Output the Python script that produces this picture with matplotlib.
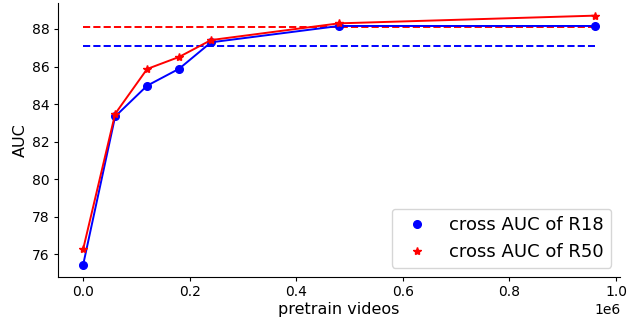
import numpy as np
import matplotlib
matplotlib.use("Agg")
import matplotlib.pyplot as plt

# pretrain videos and AUC values
videos = [0, 60000, 120000, 180000, 240000, 480000, 960000]
auc_r18 = [75.45, 83.34, 84.98, 85.88, 87.29, 88.16, 88.16]
auc_r50 = [76.28, 83.48, 85.87, 86.51, 87.41, 88.30, 88.71]
base_r18 = 87.11
base_r50 = 88.12

fig = plt.figure(figsize=(6.35, 3.2), dpi=100)
ax = fig.add_axes([0.0907, 0.134, 0.886, 0.856])

# baselines
ax.plot([videos[0], videos[-1]], [base_r18, base_r18], "--", color="blue", linewidth=1.4)
ax.plot([videos[0], videos[-1]], [base_r50, base_r50], "--", color="red", linewidth=1.4)

# curves
ax.plot(videos, auc_r18, "-", color="blue", linewidth=1.4)
ax.plot(videos, auc_r18, "o", color="blue", markersize=5.5, label="cross AUC of R18")
ax.plot(videos, auc_r50, "-", color="red", linewidth=1.4)
ax.plot(videos, auc_r50, "*", color="red", markersize=6, label="cross AUC of R50")

ax.spines["top"].set_visible(False)
ax.spines["right"].set_visible(False)
ax.set_xlabel("pretrain videos", fontsize=11.5, labelpad=2)
ax.set_ylabel("AUC", fontsize=11.5, labelpad=3)
ax.tick_params(labelsize=10, length=3, pad=2.5)
ax.set_yticks([76, 78, 80, 82, 84, 86, 88])
ax.legend(loc="lower right", fontsize=13)

fig.savefig("out.png", dpi=100)
